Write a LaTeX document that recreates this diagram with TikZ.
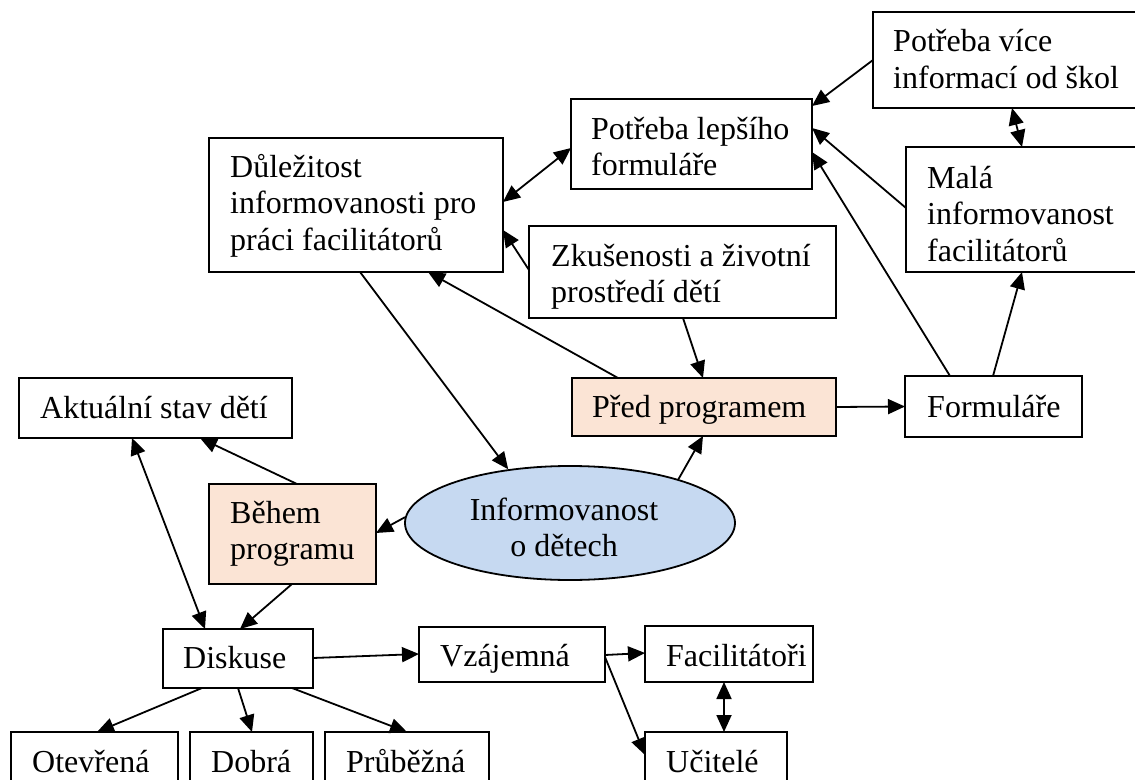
\documentclass[tikz,border=0pt]{standalone}
\usepackage{fontspec}
\setmainfont{Liberation Serif}
\usetikzlibrary{arrows.meta,shapes.geometric,calc}
\definecolor{peach}{HTML}{FBE4D5}
\definecolor{paleblue}{HTML}{C6D9F1}
% left-aligned block of lines, baseline on the first line
\newcommand\leftlines[1]{\begin{tabular}[t]{@{}l@{}}#1\end{tabular}}
\newcommand\midlines[1]{\begin{tabular}[t]{@{}c@{}}#1\end{tabular}}
\begin{document}
\begin{tikzpicture}[x=1bp,y=-1bp,
  box/.style={draw, line width=1.8bp, rectangle, anchor=north west, inner sep=0pt, outer sep=0pt},
  txt/.style={anchor=base west, inner sep=0pt, font=\fontsize{32bp}{36.8bp}\selectfont},
  ctxt/.style={anchor=base, inner sep=0pt, font=\fontsize{32bp}{36.8bp}\selectfont},
  link/.style={line width=1.8bp, -{Triangle[length=17bp,width=15bp]}},
  both/.style={line width=1.8bp, {Triangle[length=17bp,width=15bp]}-{Triangle[length=17bp,width=15bp]}}]
\useasboundingbox (0,0) rectangle (1135,780);

% boxes
\node[box, minimum width=280bp, minimum height=96bp]  (PV) at (873,12) {};
\node[box, minimum width=241bp, minimum height=90bp]  (PL) at (571,99) {};
\node[box, minimum width=250bp, minimum height=125bp] (M)  at (906,147) {};
\node[box, minimum width=294bp, minimum height=134bp] (D)  at (209,138) {};
\node[box, minimum width=307bp, minimum height=92bp]  (Z)  at (529,226) {};
\node[box, minimum width=273bp, minimum height=60bp]  (A)  at (19,378) {};
\node[box, fill=peach, minimum width=264bp, minimum height=58bp] (P) at (572,378) {};
\node[box, minimum width=177bp, minimum height=61bp]  (F)  at (905,376) {};
\node[box, fill=peach, minimum width=167bp, minimum height=100bp] (B) at (209,484) {};
\node[draw, line width=1.8bp, ellipse, fill=paleblue, inner sep=0pt,
      minimum width=330bp, minimum height=114bp] (E) at (570,523) {};
\node[box, minimum width=150bp, minimum height=59bp]  (Di) at (163,629) {};
\node[box, minimum width=186bp, minimum height=55bp]  (V)  at (419,627) {};
\node[box, minimum width=168bp, minimum height=56bp]  (Fa) at (645,626) {};
\node[box, minimum width=167bp, minimum height=80bp]  (O)  at (11,732) {};
\node[box, minimum width=123bp, minimum height=80bp]  (Do) at (190,732) {};
\node[box, minimum width=164bp, minimum height=80bp]  (Pr) at (325,732) {};
\node[box, minimum width=142bp, minimum height=80bp]  (U)  at (645,732) {};

% texts
\node[txt] (PVt) at ([shift={(20,40)}]PV.north west) {\leftlines{Potřeba více\\informací od škol}};
\node[txt] (PLt) at ([shift={(20,40)}]PL.north west) {\leftlines{Potřeba lepšího\\formuláře}};
\node[txt] (Mt)  at ([shift={(21,41)}]M.north west)  {\leftlines{Malá\\informovanost\\facilitátorů}};
\node[txt] (Dt)  at ([shift={(21,39)}]D.north west)  {\leftlines{Důležitost\\informovanosti pro\\práci facilitátorů}};
\node[txt] (Zt)  at ([shift={(22,40)}]Z.north west)  {\leftlines{Zkušenosti a životní\\prostředí dětí}};
\node[txt] (At)  at ([shift={(21,40)}]A.north west)  {Aktuální stav dětí};
\node[txt] (Pt)  at ([shift={(20,39)}]P.north west)  {Před programem};
\node[txt] (Ft)  at ([shift={(22,41)}]F.north west)  {Formuláře};
\node[txt] (Bt)  at ([shift={(21,39)}]B.north west)  {\leftlines{Během\\programu}};
\node[ctxt] (Et) at (564,520) {\midlines{Informovanost\\o dětech}};
\node[txt] (Dit) at ([shift={(20,39)}]Di.north west) {Diskuse};
\node[txt] (Vt)  at ([shift={(21,39)}]V.north west)  {Vzájemná};
\node[txt] (Fat) at ([shift={(21,40)}]Fa.north west) {Facilitátoři};
\node[txt] (Ot)  at ([shift={(21,40)}]O.north west)  {Otevřená};
\node[txt] (Dot) at ([shift={(21,40)}]Do.north west) {Dobrá};
\node[txt] (Prt) at ([shift={(21,40)}]Pr.north west) {Průběžná};
\node[txt] (Ut)  at ([shift={(21,40)}]U.north west)  {Učitelé};

% connectors in the upper part
\draw[link] ($(PV.north west)+(0,48)$) -- ($(PL.north east)+(0,7)$);
\draw[both] ($(PV.south west)+(139,0)$) -- ($(M.north west)+(116,0)$);
\draw[link] ($(M.north west)+(0,61)$) -- ($(PL.north east)+(0,29)$);
\draw[link] ($(F.north west)+(45,0)$) -- ($(PL.north east)+(0,53)$);
\draw[link] ($(F.north west)+(88,0)$) -- ($(M.south west)+(116,0)$);
\draw[both] ($(D.north east)+(0,64)$) -- ($(PL.north west)+(0,49)$);
\draw[link] ($(Z.north west)+(0,44)$) -- ($(D.north east)+(0,92)$);
\draw[link] ($(P.north west)+(46,0)$) -- ($(D.south west)+(219,0)$);
\draw[link] ($(D.south west)+(151,0)$) -- (E.139.5);
\draw[link] ($(Z.south west)+(154,0)$) -- ($(P.north west)+(131,0)$);
\draw[link] (E.22) -- ($(P.south west)+(131,0)$);
\draw[link] (P.east) -- (F.west);

% connectors in the lower part
\draw[link] (E.178) -- ($(B.north east)+(0,49)$);
\draw[link] ($(B.north west)+(88,0)$) -- ($(A.south west)+(181,0)$);
\draw[both] ($(A.south west)+(113,0)$) -- ($(Di.north west)+(42,0)$);
\draw[link] ($(B.south west)+(83,0)$) -- ($(Di.north west)+(77,0)$);
\draw[link] ($(Di.north east)+(0,29)$) -- ($(V.north west)+(0,27)$);
\draw[link] ($(Di.south west)+(39,0)$) -- ($(O.north west)+(86,0)$);
\draw[link] ($(Di.south west)+(75,0)$) -- ($(Do.north west)+(62,0)$);
\draw[link] ($(Di.south west)+(129,0)$) -- ($(Pr.north west)+(82,0)$);
\draw[link] ($(V.north east)+(0,28)$) -- ($(Fa.north west)+(0,27)$);
\draw[link] ($(V.north east)+(0,30)$) -- ($(U.north west)+(0,23)$);
\draw[both] ($(Fa.south west)+(79,0)$) -- ($(U.north west)+(79,0)$);
\end{tikzpicture}
\end{document}
